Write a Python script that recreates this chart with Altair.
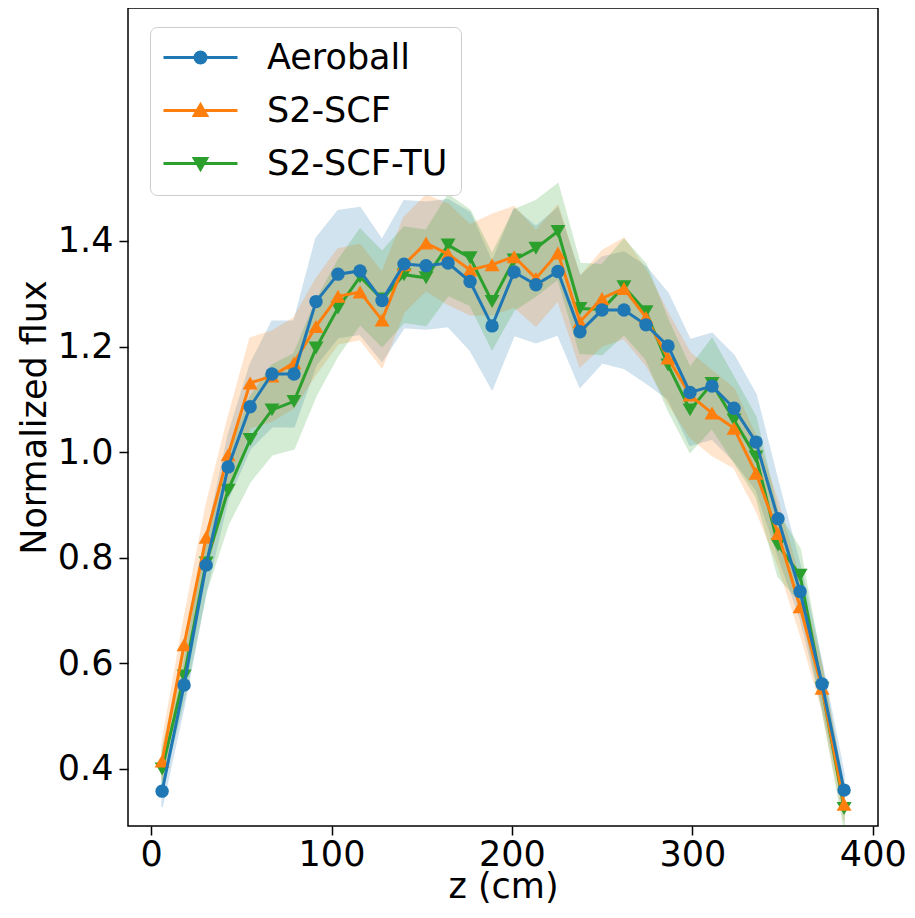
import altair as alt
import pandas as pd

# ---- data ----
z_cm = [6.1, 18.3, 30.5, 42.7, 54.9, 67.0, 79.2, 91.4, 103.6, 115.8, 128.0, 140.2,
        152.4, 164.6, 176.8, 189.0, 201.2, 213.3, 225.5, 237.7, 249.9, 262.1, 274.3,
        286.5, 298.7, 310.9, 323.1, 335.3, 347.5, 359.7, 371.9, 384.1]

aeroball = [0.358, 0.559, 0.786, 0.972, 1.086, 1.148, 1.148, 1.285, 1.337, 1.343, 1.287,
            1.356, 1.353, 1.358, 1.323, 1.239, 1.341, 1.317, 1.342, 1.228, 1.269, 1.269,
            1.241, 1.201, 1.113, 1.125, 1.083, 1.019, 0.874, 0.736, 0.561, 0.360]
aeroball_err = [0.03, 0.04, 0.05, 0.06, 0.08, 0.10, 0.10, 0.12, 0.12, 0.12, 0.115, 0.12,
                0.12, 0.12, 0.13, 0.12, 0.12, 0.11, 0.12, 0.105, 0.10, 0.11, 0.11, 0.10,
                0.10, 0.10, 0.10, 0.09, 0.07, 0.05, 0.04, 0.03]

s2_scf = [0.415, 0.635, 0.839, 0.995, 1.131, 1.144, 1.169, 1.238, 1.295, 1.303, 1.250,
          1.355, 1.396, 1.375, 1.345, 1.355, 1.370, 1.329, 1.377, 1.247, 1.291, 1.310,
          1.255, 1.178, 1.108, 1.074, 1.045, 0.960, 0.846, 0.707, 0.553, 0.333]
s2_scf_err = [0.035, 0.05, 0.06, 0.07, 0.085, 0.085, 0.085, 0.09, 0.09, 0.09, 0.09, 0.09,
              0.09, 0.095, 0.085, 0.095, 0.095, 0.09, 0.09, 0.085, 0.09, 0.095, 0.09,
              0.085, 0.08, 0.08, 0.075, 0.07, 0.06, 0.05, 0.04, 0.03]

s2_scf_tu = [0.400, 0.576, 0.790, 0.928, 1.024, 1.080, 1.096, 1.197, 1.273, 1.332, 1.290,
             1.336, 1.330, 1.392, 1.368, 1.285, 1.364, 1.386, 1.418, 1.272, 1.270, 1.313,
             1.266, 1.165, 1.080, 1.130, 1.061, 0.991, 0.824, 0.767, 0.553, 0.325]
s2_scf_tu_err = [0.035, 0.045, 0.055, 0.065, 0.08, 0.085, 0.09, 0.09, 0.09, 0.09, 0.09,
                 0.09, 0.09, 0.095, 0.09, 0.09, 0.095, 0.09, 0.09, 0.085, 0.085, 0.09,
                 0.09, 0.085, 0.08, 0.085, 0.08, 0.075, 0.06, 0.05, 0.04, 0.035]

series_names = ["Aeroball", "S2-SCF", "S2-SCF-TU"]
series_colors = ["#1f77b4", "#ff7f0e", "#2ca02c"]
series_shapes = ["circle", "triangle-up", "triangle-down"]

x_ticks = [0, 100, 200, 300, 400]
y_ticks = [0.4, 0.6, 0.8, 1.0, 1.2, 1.4]

# ---- table ----
rows = []
for name, vals, errs in zip(series_names, [aeroball, s2_scf, s2_scf_tu],
                            [aeroball_err, s2_scf_err, s2_scf_tu_err]):
    for zz, v, e in zip(z_cm, vals, errs):
        rows.append({"z": zz, "series": name, "value": v, "lo": v - e, "hi": v + e})
df = pd.DataFrame(rows)

FONT = "DejaVu Sans"
FS = 35

xscale = alt.Scale(domain=[-12.8, 402.9], nice=False, zero=False)
yscale = alt.Scale(domain=[0.292, 1.841], nice=False, zero=False)
cscale = alt.Scale(domain=series_names, range=series_colors)

# legend symbols: line segment with the marker on it (custom SVG paths)
circ = "M-3.7,0H3.7M0.55,0A0.55,0.55 0 1,1 -0.55,0A0.55,0.55 0 1,1 0.55,0Z"
tri_up = "M-3.7,0H3.7M0,-0.58L0.62,0.5L-0.62,0.5Z"
tri_dn = "M-3.7,0H3.7M0,0.58L0.62,-0.5L-0.62,-0.5Z"
legend_shape_scale = alt.Scale(domain=series_names, range=[circ, tri_up, tri_dn])

xaxis = alt.Axis(values=x_ticks, title="z (cm)", titleY=71, titleBaseline="alphabetic",
                 labelPadding=2, labelFlush=False, labelOverlap=False, format="d")
yaxis = alt.Axis(values=y_ticks, title="Normalized flux", format=".1f",
                 titleX=-83, titleY=409, titleBaseline="alphabetic", titleAlign="center",
                 labelPadding=6, labelOverlap=False)

X = alt.X("z:Q", scale=xscale, axis=xaxis)
Y = alt.Y("value:Q", scale=yscale, axis=yaxis)

legend = alt.Legend(
    title=None, orient="none", legendX=22, legendY=19, direction="vertical",
    labelFont=FONT, labelFontSize=FS, labelColor="black", labelLimit=0,
    symbolSize=400, symbolStrokeWidth=3, symbolOffset=20, labelOffset=49,
    rowPadding=17, padding=13, cornerRadius=7,
    strokeColor="#cccccc", fillColor="white", symbolOpacity=1,
)

base = alt.Chart(df)

# shaded uncertainty bands (bottom)
band_layers = []
for name, col in zip(series_names, series_colors):
    band = base.transform_filter(alt.datum.series == name).mark_area(
        opacity=0.2, color=col, stroke=col, strokeWidth=1.5, clip=True).encode(
        x=X, y=alt.Y("lo:Q", scale=yscale, axis=yaxis), y2="hi:Q")
    band_layers.append(band)

# lines and markers (Aeroball drawn last so it sits on top)
line_layers = []
for name, col, shape in reversed(list(zip(series_names, series_colors, series_shapes))):
    sub = base.transform_filter(alt.datum.series == name)
    line = sub.mark_line(strokeWidth=3, color=col, clip=True).encode(x=X, y=Y)
    size = 180 if shape == "circle" else 225
    pts = sub.mark_point(shape=shape, filled=True, size=size, opacity=1, color=col,
                         clip=True).encode(x=X, y=Y)
    line_layers += [line, pts]

# legend-only layer (no rows pass the filter, only the legend is produced)
legend_layer = base.transform_filter("datum.z < -1000").mark_point(
    filled=True, size=400, strokeWidth=3, opacity=1).encode(
    x=X, y=Y,
    color=alt.Color("series:N", scale=cscale, legend=legend),
    stroke=alt.Stroke("series:N", scale=cscale, legend=legend),
    shape=alt.Shape("series:N", scale=legend_shape_scale, legend=legend),
)

chart = alt.layer(*band_layers, *line_layers, legend_layer).properties(
    width=750, height=818,
    autosize=alt.AutoSizeParams(type="none"),
    padding={"left": 120, "top": 0, "right": 29, "bottom": 80},
).configure(font=FONT).configure_view(
    stroke="black", strokeWidth=1.5
).configure_axis(
    grid=False, domain=False, tickSize=9, tickWidth=1.5, tickColor="black",
    labelFont=FONT, labelFontSize=FS, labelColor="black",
    titleFont=FONT, titleFontSize=FS, titleFontWeight="normal", titleColor="black",
)

chart.save("out.html", embed_options={"renderer": "svg", "actions": False})
